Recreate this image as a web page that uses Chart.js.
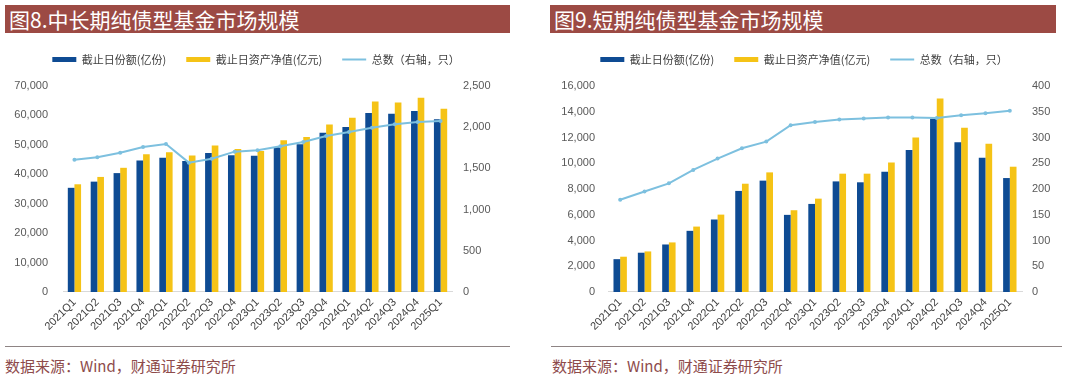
<!DOCTYPE html>
<html><head><meta charset="utf-8">
<script src="https://cdn.jsdelivr.net/npm/chart.js@4.4.1/dist/chart.umd.min.js"></script>
<style>
html,body{margin:0;padding:0;background:#fff;width:1080px;height:380px;overflow:hidden;font-family:"Noto Sans CJK SC",sans-serif;}
.title{position:absolute;top:5px;height:28px;background:#9C4A44;color:#fff;font-size:21px;line-height:28px;padding-left:4px;box-sizing:border-box;white-space:nowrap;}
.box{position:absolute;}
.rule{position:absolute;top:346px;height:0;border-top:1.5px solid #8E8484;}
.src{position:absolute;top:356px;font-size:15px;color:#8E4B4B;line-height:20px;white-space:nowrap;font-family:"Noto Sans CJK SC",serif;}
</style></head><body>
<div class="title" style="left:5px;width:505px;">图8.中长期纯债型基金市场规模</div>
<div class="title" style="left:550px;width:506px;">图9.短期纯债型基金市场规模</div>
<div class="box" style="left:0;top:30px;width:512px;height:307px;"><canvas id="c1" width="512" height="307"></canvas></div>
<div class="box" style="left:550px;top:30px;width:508px;height:307px;"><canvas id="c2" width="508" height="307"></canvas></div>
<div class="rule" style="left:5px;width:505px;"></div>
<div class="rule" style="left:551px;width:511px;"></div>
<div class="src" style="left:5px;">数据来源：Wind，财通证券研究所</div>
<div class="src" style="left:552px;">数据来源：Wind，财通证券研究所</div>
<script>
const quarters = ["2021Q1","2021Q2","2021Q3","2021Q4","2022Q1","2022Q2","2022Q3","2022Q4","2023Q1","2023Q2","2023Q3","2023Q4","2024Q1","2024Q2","2024Q3","2024Q4","2025Q1"];
const seriesNames = ["截止日份额(亿份)","截止日资产净值(亿元)","总数（右轴，只）"];

// Fig 8: medium/long-term pure bond funds
const midShares = [35400,37500,40400,44700,45600,44500,47200,46500,46300,49200,50200,54100,56100,60800,60600,61500,58700];
const midNav    = [36600,39100,42200,46800,47500,46400,49800,48600,47900,51600,52700,56900,59200,64700,64400,66000,62300];
const midCount  = [1606,1634,1691,1760,1796,1570,1618,1703,1719,1768,1820,1893,1942,1994,2035,2063,2075];

// Fig 9: short-term pure bond funds
const shortShares = [2550,3050,3690,4750,5630,7850,8650,5990,6840,8590,8520,9340,11020,13450,11640,10430,8850];
const shortNav    = [2740,3150,3850,5080,6010,8410,9290,6350,7250,9190,9190,10060,12000,15020,12750,11510,9730];
const shortCount  = [179,195,211,237,259,279,292,324,330,335,337,339,339,338,343,347,352];

const BLUE = "#0E4B93", YELLOW = "#F5C316", LINE = "#7DC0DF";

const legendMargin = {
  id: 'legendMargin',
  beforeInit(chart) {
    const fit = chart.legend.fit;
    chart.legend.fit = function() { fit.bind(chart.legend)(); this.height += 11; };
  }
};

function makeChart(id, shares, nav, count, leftMax, leftStep, rightMax, rightStep, dims, catPct) {
  const fmt = v => Number(v).toLocaleString('en-US');
  return new Chart(document.getElementById(id), {
    type: 'bar',
    data: {
      labels: quarters,
      datasets: [
        {label: seriesNames[0], data: shares, backgroundColor: BLUE, borderWidth: 0, yAxisID: 'y', order: 2, categoryPercentage: catPct, barPercentage: 1.0},
        {label: seriesNames[1], data: nav, backgroundColor: YELLOW, borderWidth: 0, yAxisID: 'y', order: 2, categoryPercentage: catPct, barPercentage: 1.0},
        {label: seriesNames[2], data: count, type: 'line', borderColor: LINE, backgroundColor: LINE, borderWidth: 2, pointRadius: 2, pointBackgroundColor: LINE, pointBorderWidth: 0, tension: 0, yAxisID: 'y1', order: 0}
      ]
    },
    plugins: [legendMargin],
    options: {
      responsive: false, animation: false, devicePixelRatio: 1,
      layout: {padding: {top: 4, left: 0, right: 0, bottom: 0}},
      plugins: {
        tooltip: {enabled: false},
        legend: {
          position: 'top',
          labels: {
            usePointStyle: true, pointStyleWidth: 24,
            boxWidth: 24, boxHeight: 5, padding: 20, color: '#404040',
            font: {size: 11, family: '"Noto Sans CJK SC", sans-serif'},
            sort: (a, b) => a.datasetIndex - b.datasetIndex,
            generateLabels(chart) {
              const items = Chart.defaults.plugins.legend.labels.generateLabels(chart);
              items.forEach(it => {
                if (it.datasetIndex === 2) { it.pointStyle = 'line'; it.lineWidth = 2; it.strokeStyle = LINE; }
                else { it.pointStyle = 'rect'; it.lineWidth = 0; }
              });
              return items;
            }
          }
        }
      },
      scales: {
        x: {
          grid: {display: false, drawTicks: false},
          border: {display: true, color: '#D9D9D9', width: 1},
          ticks: {color: '#404040', font: {size: 11, family: 'Arial, "Liberation Sans", sans-serif'}, minRotation: 45, maxRotation: 45, padding: 4, autoSkip: false}
        },
        y: {
          position: 'left', min: 0, max: leftMax,
          grid: {display: false, drawTicks: false},
          border: {display: false},
          ticks: {stepSize: leftStep, color: '#595959', padding: dims.lp, font: {size: 11, family: 'Arial, "Liberation Sans", sans-serif'}, callback: fmt},
          afterFit(a) { a.width = dims.lw; }
        },
        y1: {
          position: 'right', min: 0, max: rightMax,
          grid: {display: false, drawTicks: false},
          border: {display: false},
          ticks: {stepSize: rightStep, color: '#595959', padding: dims.rp, font: {size: 11, family: 'Arial, "Liberation Sans", sans-serif'}, callback: fmt},
          afterFit(a) { a.width = dims.rw; }
        }
      }
    }
  });
}

makeChart('c1', midShares, midNav, midCount, 70000, 10000, 2500, 500, {lw: 63, lp: 15, rw: 60, rp: 11}, 0.58);
makeChart('c2', shortShares, shortNav, shortCount, 16000, 2000, 400, 50, {lw: 58, lp: 13, rw: 36, rp: 10}, 0.55);
</script>
</body></html>
